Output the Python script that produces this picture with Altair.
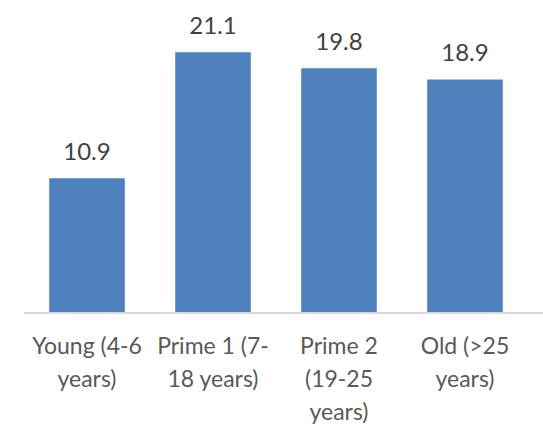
import altair as alt
import pandas as pd

categories = ["Young (4-6\nyears)", "Prime 1 (7-\n18 years)", "Prime 2\n(19-25\nyears)", "Old (>25\nyears)"]
values = [10.9, 21.1, 19.8, 18.9]

df = pd.DataFrame({"cat": categories, "val": values})

FONT = "Lato"

x = alt.X("cat:N", sort=categories, title=None,
          scale=alt.Scale(paddingInner=0.4, paddingOuter=0.2),
          axis=alt.Axis(labelAngle=0, labelExpr="split(datum.label, '\\n')",
                        labelFont=FONT, labelFontSize=23, labelColor="#595959",
                        labelPadding=22, labelLineHeight=33, labelBaseline="top",
                        ticks=False, domain=False, labelLimit=200))
y = alt.Y("val:Q", scale=alt.Scale(domain=[0, 25]), axis=None)

bars = alt.Chart(df).mark_bar(color="#4F81BD").encode(x=x, y=y)
text = alt.Chart(df).mark_text(dy=-18, baseline="alphabetic", font=FONT, fontSize=24,
                               color="#404040").encode(
    x=alt.X("cat:N", sort=categories), y=y, text=alt.Text("val:Q", format=".1f"))
baseline = alt.Chart(df).mark_rule(color="#D9D9D9", strokeWidth=1.5).encode(
    x=alt.value(0), x2=alt.value(519), y=alt.value(309))

chart = alt.layer(bars, text, baseline).properties(
    width=504, height=309,
    autosize=alt.AutoSizeParams(type="none"),
    padding={"left": 24, "top": 4, "right": 15, "bottom": 112},
).configure_view(stroke=None)

chart.save("out.html", embed_options={"renderer": "svg", "actions": False})
